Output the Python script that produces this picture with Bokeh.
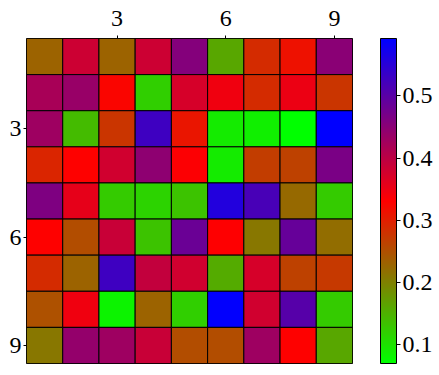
import numpy as np
from bokeh.plotting import figure
from bokeh.models import (ColumnDataSource, LinearColorMapper, ColorBar,
                          FixedTicker, Range1d, Title)
from bokeh.transform import transform
from bokeh.embed import file_html
from bokeh.resources import INLINE

# data (rows top -> bottom, columns left -> right), indices 1..9
rows = [1, 2, 3, 4, 5, 6, 7, 8, 9]
cols = [1, 2, 3, 4, 5, 6, 7, 8, 9]
row1 = [0.230, 0.383, 0.230, 0.383, 0.457, 0.161, 0.288, 0.314, 0.451]
row2 = [0.420, 0.436, 0.325, 0.119, 0.372, 0.346, 0.288, 0.351, 0.277]
row3 = [0.430, 0.140, 0.277, 0.528, 0.309, 0.092, 0.087, 0.070, 0.592]
row4 = [0.293, 0.330, 0.378, 0.446, 0.335, 0.092, 0.269, 0.264, 0.467]
row5 = [0.462, 0.356, 0.124, 0.116, 0.132, 0.557, 0.517, 0.224, 0.124]
row6 = [0.330, 0.253, 0.388, 0.132, 0.483, 0.331, 0.209, 0.488, 0.219]
row7 = [0.288, 0.230, 0.528, 0.393, 0.378, 0.156, 0.372, 0.264, 0.272]
row8 = [0.248, 0.346, 0.084, 0.230, 0.119, 0.589, 0.378, 0.504, 0.124]
row9 = [0.209, 0.441, 0.430, 0.388, 0.253, 0.253, 0.430, 0.330, 0.161]
tick_positions = [3, 6, 9]
cbar_ticks = [0.1, 0.2, 0.3, 0.4, 0.5]

matrix = [row1, row2, row3, row4, row5, row6, row7, row8, row9]
xs, ys, vs = [], [], []
for r, rowvals in zip(rows, matrix):
    for c, v in zip(cols, rowvals):
        xs.append(c)
        ys.append(r)
        vs.append(v)
src = ColumnDataSource(dict(x=xs, y=ys, v=vs))

# brg_r colormap: green -> red -> blue
def brg_r(t):
    if t <= 0.5:
        r, g, b = 2 * t, 1 - 2 * t, 0.0
    else:
        r, g, b = 2 - 2 * t, 0.0, 2 * t - 1
    return "#%02x%02x%02x" % (int(round(r * 255)), int(round(g * 255)), int(round(b * 255)))

palette = [brg_r(i / 255) for i in range(256)]
mapper = LinearColorMapper(palette=palette, low=min(vs), high=max(vs))

FONT = "Liberation Serif"

p = figure(frame_width=326, frame_height=325, output_backend="svg", toolbar_location=None,
           x_range=Range1d(0.5, 9.5), y_range=Range1d(9.5, 0.5),
           x_axis_location="above", min_border_left=26, min_border_top=38,
           min_border_bottom=4, min_border_right=0)
p.rect(x="x", y="y", width=1, height=1, source=src,
       fill_color=transform("v", mapper), line_color="black", line_width=1)

p.grid.visible = False
p.outline_line_color = "black"
p.outline_line_width = 1
for ax in (p.xaxis[0], p.yaxis[0]):
    ax.ticker = FixedTicker(ticks=tick_positions)
    ax.major_label_text_font = FONT
    ax.major_label_text_font_size = "24px"
    ax.major_label_text_color = "black"
    ax.major_tick_in = 0
    ax.major_tick_out = 3
    ax.minor_tick_line_color = None
    ax.axis_line_color = None
    ax.major_label_standoff = 2
    ax.major_tick_line_color = "black"
p.xaxis[0].major_label_standoff = 10

# spacer between frame and colour bar
p.add_layout(Title(text=" ", text_font_size="1px", standoff=25), "right")

cb = ColorBar(color_mapper=mapper, width=16, padding=0, margin=0,
              ticker=FixedTicker(ticks=cbar_ticks),
              major_label_text_font=FONT, major_label_text_font_size="24px",
              major_label_text_color="black",
              major_tick_in=0, major_tick_out=4, major_tick_line_color="black",
              bar_line_color="black", label_standoff=2)
p.add_layout(cb, "right")

open("out.html", "w").write(file_html(p, INLINE))
